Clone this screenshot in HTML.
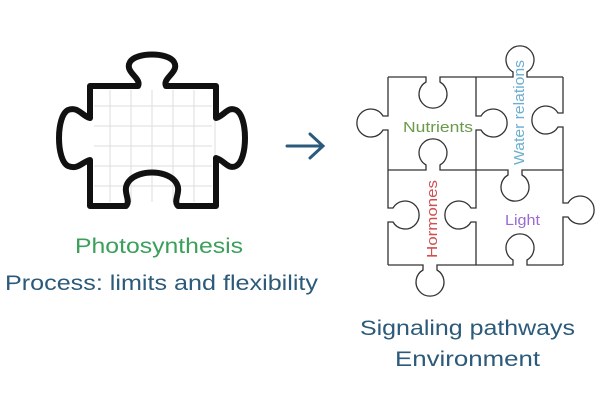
<!DOCTYPE html><html><head><style>body{margin:0;background:#fff}svg{display:block}text{font-family:"Liberation Sans",sans-serif}</style></head><body>
<svg id="s" width="600" height="400" viewBox="0 0 600 400">
<g stroke="#ddd" stroke-width="1" fill="none" id="grid"></g>
<path d="M90,86 L138,86 C142,78 124,72 130,62 C136,52 168,52 174,62 C180,72 162,78 166,86 L216,86 L216,118 C224,116 228,106 236,110 C248,116 248,160 236,166 C228,170 224,160 216,158 L216,206 L178,206 C172,200 184,190 174,180 C164,170 140,170 130,180 C120,190 132,200 126,206 L90,206 L90,160 C82,162 78,170 68,166 C56,160 56,116 68,110 C78,106 82,116 90,118 Z" fill="none" stroke="#111" stroke-width="6" stroke-linejoin="round"/>
<g id="pz" stroke="#333" stroke-width="1.3" fill="none"></g>
<g stroke="#2b5a7a" stroke-width="3" fill="none" stroke-linecap="round"><path d="M287,146 L322,146 M310,134 L323,146 L310,158"/></g>
<text x="75" y="253" font-size="21" fill="#3aa05a" textLength="168" lengthAdjust="spacingAndGlyphs">Photosynthesis</text>
<text x="5" y="290" font-size="21" fill="#2b5a7a" textLength="313" lengthAdjust="spacingAndGlyphs">Process: limits and flexibility</text>
<text x="360" y="335" font-size="21" fill="#2b5a7a" textLength="215" lengthAdjust="spacingAndGlyphs">Signaling pathways</text>
<text x="395" y="366" font-size="21" fill="#2b5a7a" textLength="145" lengthAdjust="spacingAndGlyphs">Environment</text>
<text x="403" y="132" font-size="15" fill="#6a9a4a" textLength="70" lengthAdjust="spacingAndGlyphs">Nutrients</text>
<text x="505" y="225" font-size="15" fill="#9a6ad0" textLength="35" lengthAdjust="spacingAndGlyphs">Light</text>
<text transform="translate(524,165) rotate(-90)" font-size="15" fill="#6aaed0" textLength="105" lengthAdjust="spacingAndGlyphs">Water relations</text>
<text transform="translate(437,258) rotate(-90)" font-size="15" fill="#d05050" textLength="78" lengthAdjust="spacingAndGlyphs">Hormones</text>
</svg>
<script>
var ns="http://www.w3.org/2000/svg";
var g=document.getElementById('grid');
var gd="";
for(var x=110;x<216;x+=21)gd+="M"+x+",90 L"+x+",202 ";
for(var y=106;y<206;y+=20)gd+="M94,"+y+" L212,"+y+" ";
var p=document.createElementNS(ns,'path');p.setAttribute('d',gd);g.appendChild(p);
function edge(P,Q,m,dir){
 var dx=Q[0]-P[0],dy=Q[1]-P[1],L=Math.hypot(dx,dy),u=[dx/L,dy/L];
 var n=[-u[1]*dir,u[0]*dir];
 var hw=7,nk=5,r=14;
 function pt(t,o){return [P[0]+u[0]*t+n[0]*o,P[1]+u[1]*t+n[1]*o];}
 var cr=u[0]*n[1]-u[1]*n[0];var sw=cr<0?1:0;
 var A=pt(m-hw,0),N1=pt(m-hw,nk),N2=pt(m+hw,nk),B=pt(m+hw,0);
 return "M"+P+" L"+A+" L"+N1+" A"+r+" "+r+" 0 1 "+sw+" "+N2+" L"+B+" L"+Q;
}
var E=[
[[388,77],[476,77],45,1],
[[476,77],[563,77],44,-1],
[[563,77],[563,170],43,1],
[[563,170],[563,265],40,-1],
[[563,265],[476,265],43,1],
[[476,265],[388,265],46,-1],
[[388,265],[388,170],50,1],
[[388,170],[388,77],47,-1],
[[476,77],[476,170],46,-1],
[[476,170],[476,265],45,1],
[[388,170],[476,170],45,-1],
[[476,170],[563,170],39,1]
];
var pz=document.getElementById('pz');
E.forEach(function(e){var q=document.createElementNS(ns,'path');q.setAttribute('d',edge(e[0],e[1],e[2],e[3]));pz.appendChild(q);});
</script>
</body></html>
